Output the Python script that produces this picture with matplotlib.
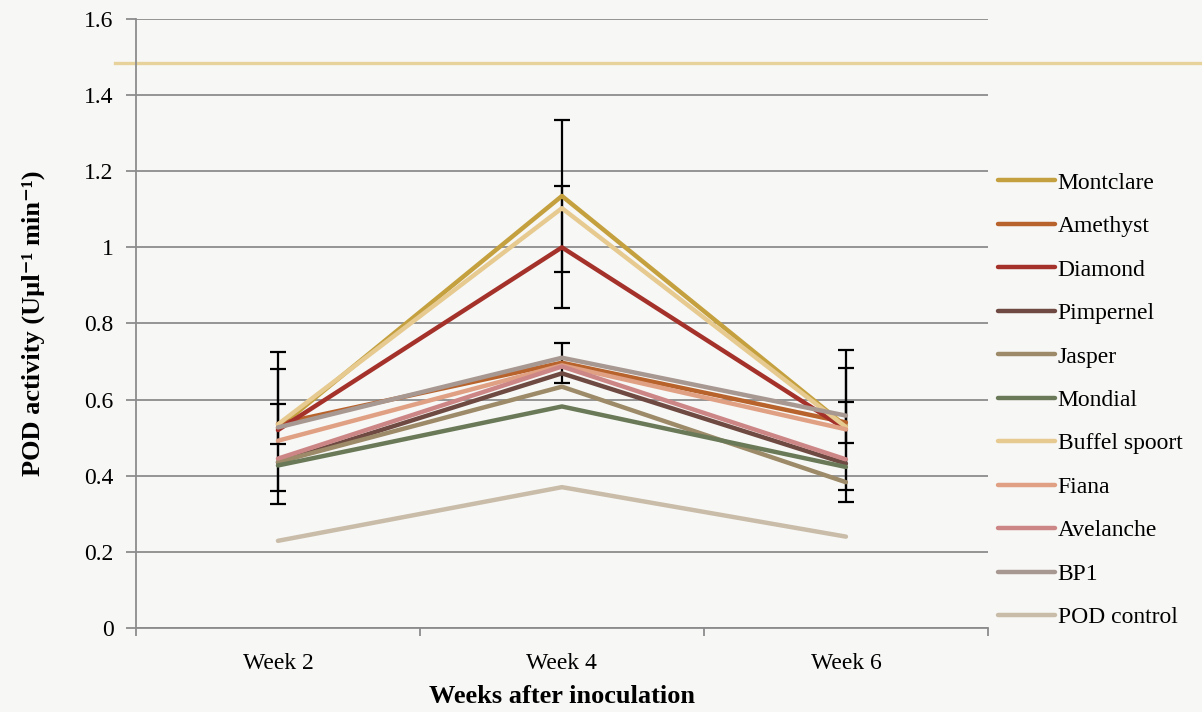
import numpy as np
import matplotlib
matplotlib.use("Agg")
import matplotlib.pyplot as plt

plt.rcParams['font.family'] = ['Liberation Serif', 'DejaVu Serif']

weeks = ["Week 2", "Week 4", "Week 6"]

cultivars = ["Montclare", "Amethyst", "Diamond", "Pimpernel", "Jasper", "Mondial",
             "Buffel spoort", "Fiana", "Avelanche", "BP1", "POD control"]

montclare = [0.525, 1.135, 0.530]
amethyst = [0.536, 0.697, 0.540]
diamond = [0.520, 1.000, 0.522]
pimpernel = [0.435, 0.669, 0.432]
jasper = [0.436, 0.634, 0.383]
mondial = [0.427, 0.582, 0.423]
buffel_spoort = [0.535, 1.103, 0.528]
fiana = [0.492, 0.690, 0.522]
avelanche = [0.445, 0.687, 0.443]
bp1 = [0.527, 0.710, 0.558]
pod_control = [0.229, 0.370, 0.240]

values = [montclare, amethyst, diamond, pimpernel, jasper, mondial,
          buffel_spoort, fiana, avelanche, bp1, pod_control]

# standard errors, only shown for three cultivars
errors = {"Montclare": 0.20, "Diamond": 0.16, "Amethyst": 0.053}

colors = ["#c4a03e", "#b9632c", "#a5322a", "#6e4a42", "#9c8a68", "#6a7a58",
          "#e6ca90", "#e0a084", "#cc8686", "#a89892", "#c9bca8"]

reference_level = 1.484

fig = plt.figure(figsize=(12.02, 7.12), dpi=100)
fig.patch.set_facecolor("#f7f7f5")
ax = fig.add_axes([0.1131, 0.118, 0.7088, 0.8553])
ax.set_facecolor("#f7f7f5")

x = np.arange(len(weeks))

for name, vals, col in zip(cultivars, values, colors):
    if name in errors:
        ax.errorbar(x, vals, yerr=errors[name], fmt="none", ecolor="black",
                    elinewidth=1.6, capsize=6, capthick=1.6, zorder=3)
    ax.plot(x, vals, color=col, lw=3.2, label=name, solid_capstyle="round", zorder=4)

# light horizontal band line running across the slide
ax.axhline(reference_level, xmin=-0.025, xmax=1.26, color="#e8d29c", lw=2.4,
           clip_on=False, zorder=2)

ax.set_xlim(-0.5, 2.5)
ax.set_ylim(0, 1.6)
ax.set_yticks(np.arange(0, 1.61, 0.2))
ax.set_yticklabels(["0", "0.2", "0.4", "0.6", "0.8", "1", "1.2", "1.4", "1.6"])
ax.set_xticks(x)
ax.set_xticklabels(weeks)
ax.set_xticks([-0.5, 0.5, 1.5, 2.5], minor=True)
ax.tick_params(axis="x", which="major", length=0, labelsize=17, pad=18)
ax.tick_params(axis="x", which="minor", length=6, width=1.3, color="#8c8c8c", direction="out")
ax.tick_params(axis="y", length=7, width=1.3, color="#8c8c8c", labelsize=17, pad=9)

ax.grid(axis="y", color="#8c8c8c", lw=1.3)
ax.set_axisbelow(True)
for side in ["top", "right"]:
    ax.spines[side].set_visible(False)
for side in ["left", "bottom"]:
    ax.spines[side].set_color("#8c8c8c")
    ax.spines[side].set_linewidth(1.3)

ax.set_xlabel("Weeks after inoculation", fontsize=19, fontweight="bold", labelpad=8)
ax.set_ylabel("POD activity (Uµl⁻¹ min⁻¹)", fontsize=19, fontweight="bold", labelpad=28)

leg = ax.legend(loc="center left", bbox_to_anchor=(0.99, 0.374), frameon=False,
                fontsize=17, handlelength=2.4, handletextpad=0.12, labelspacing=0.93,
                borderaxespad=0.4)

fig.savefig("out.png", dpi=100, facecolor=fig.get_facecolor())
